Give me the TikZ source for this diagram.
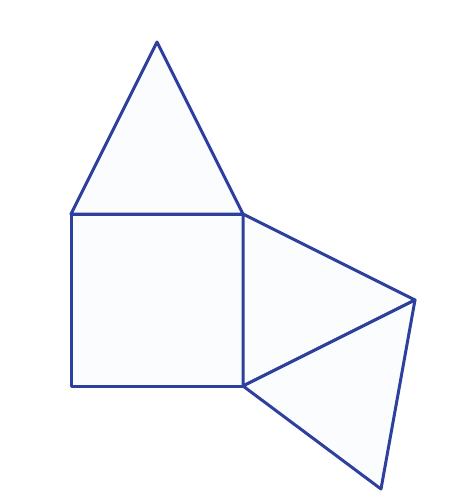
\documentclass[tikz,border=0pt]{standalone}
\usepackage{tikz}
\definecolor{edgeblue}{RGB}{46,64,158}
\definecolor{facefill}{RGB}{251,252,254}
\begin{document}
\begin{tikzpicture}[x=1pt,y=-1pt,line join=round]
    \tikzstyle{face}=[draw=edgeblue,fill=facefill,line width=3pt]
    \useasboundingbox (0,0) rectangle (460,504);
    \coordinate (P_1) at (71,214);
    \coordinate (P_2) at (243,214);
    \coordinate (P_3) at (243,386);
    \coordinate (P_4) at (71,386);
    \coordinate (P_5) at (157,42);
    \coordinate (P_6) at (415,300);
    \coordinate (P_7) at (381,489);
    \draw[face] (P_1) -- (P_2) -- (P_3) -- (P_4) -- cycle;
    \draw[face] (P_1) -- (P_5) -- (P_2) -- cycle;
    \draw[face] (P_2) -- (P_6) -- (P_3) -- cycle;
    \draw[face] (P_3) -- (P_6) -- (P_7) -- cycle;
\end{tikzpicture}
\end{document}
